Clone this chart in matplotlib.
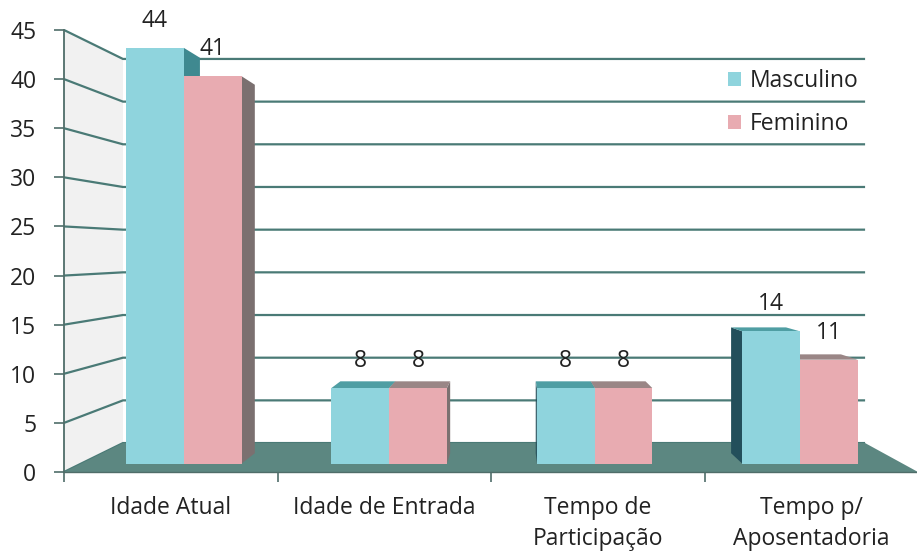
import numpy as np
import matplotlib.pyplot as plt
from matplotlib.patches import Polygon, Patch

# dados
categorias = ['Idade Atual', 'Idade de Entrada', 'Tempo de\nParticipação', 'Tempo p/\nAposentadoria']
series = ['Masculino', 'Feminino']
masculino = [44, 8, 8, 14]
feminino = [41, 8, 8, 11]
yticks = list(range(0, 46, 5))

plt.rcParams['font.family'] = ['Open Sans', 'DejaVu Sans']
FS = 16.5
COR_TXT = '#222222'

# cores: frente, topo, lado direito, lado esquerdo
cores = {
    'Masculino': ('#8fd4dd', '#4f9ea3', '#3f8990', '#234f5b'),
    'Feminino': ('#e8abb1', '#9a8686', '#7b7070', '#5e5555'),
}
cor_grade = '#4a7a76'
cor_chao = '#5c8781'

# perspectiva (ponto de fuga em unidades do eixo, escalas de profundidade)
VX, VY = 2.108, 22.5
S_FRENTE, S_B0, S_B1, S_FUNDO = 1.0, 0.962, 0.915, 0.869
LARG = 0.281
YMAX = 45
NCAT = len(categorias)


def proj(x, y, s):
    return (VX + (x - VX) * s, VY + (y - VY) * s)


fig = plt.figure(figsize=(9.17, 5.52), dpi=100)
ax = fig.add_axes([64/917, 80/552, 854/917, 442/552])
ax.set_xlim(0, NCAT)
ax.set_ylim(0, YMAX)


def poly(pts, **kw):
    ax.add_patch(Polygon(pts, closed=True, clip_on=False, **kw))


# paredes
poly([proj(0, 0, S_FRENTE), proj(0, YMAX, S_FRENTE), proj(0, YMAX, S_FUNDO), proj(0, 0, S_FUNDO)],
     facecolor='#f1f1f1', edgecolor='none', zorder=1)
poly([proj(0, 0, S_FUNDO), proj(NCAT, 0, S_FUNDO), proj(NCAT, YMAX, S_FUNDO), proj(0, YMAX, S_FUNDO)],
     facecolor='white', edgecolor='none', zorder=1)

# grade
for v in yticks:
    pts = [proj(0, v, S_FRENTE), proj(0, v, S_FUNDO), proj(NCAT, v, S_FUNDO)]
    ax.plot([p[0] for p in pts], [p[1] for p in pts], color=cor_grade, lw=1.6,
            clip_on=False, zorder=2, solid_capstyle='butt')

# chão
poly([proj(0, 0, S_FRENTE), proj(NCAT, 0, S_FRENTE), proj(NCAT, 0, S_FUNDO), proj(0, 0, S_FUNDO)],
     facecolor=cor_chao, edgecolor='none', zorder=3)

# barras
barras = []
for i in range(NCAT):
    for j, (nome, vals) in enumerate(zip(series, [masculino, feminino])):
        x0 = i + 0.5 - LARG + j * LARG
        barras.append((x0, x0 + LARG, vals[i], nome))
barras.sort(key=lambda b: -abs((b[0] + b[1]) / 2 - VX))

z = 4
for x0, x1, h, nome in barras:
    frente, topo, ldir, lesq = cores[nome]
    if x1 < VX:
        poly([proj(x1, 0, S_B0), proj(x1, h, S_B0), proj(x1, h, S_B1), proj(x1, 0, S_B1)],
             facecolor=ldir, edgecolor='none', zorder=z)
    if x0 > VX:
        poly([proj(x0, 0, S_B0), proj(x0, h, S_B0), proj(x0, h, S_B1), proj(x0, 0, S_B1)],
             facecolor=lesq, edgecolor='none', zorder=z)
    if h < VY:
        poly([proj(x0, h, S_B0), proj(x1, h, S_B0), proj(x1, h, S_B1), proj(x0, h, S_B1)],
             facecolor=topo, edgecolor='none', zorder=z)
    poly([proj(x0, 0, S_B0), proj(x1, 0, S_B0), proj(x1, h, S_B0), proj(x0, h, S_B0)],
         facecolor=frente, edgecolor='none', zorder=z + 0.5)
    ax.annotate(str(h), proj((x0 + x1) / 2, h, S_B0), xytext=(0, 19.5), textcoords='offset points',
                ha='center', va='center', fontsize=FS, color=COR_TXT, annotation_clip=False, zorder=20)
    z += 1

# eixos
for lado in ['top', 'right']:
    ax.spines[lado].set_visible(False)
ax.spines['left'].set_color('#4f6d69')
ax.spines['left'].set_linewidth(1.3)
ax.spines['bottom'].set_color('#4f6d69')
ax.spines['bottom'].set_linewidth(1.0)
ax.spines['left'].set_zorder(30)
ax.spines['bottom'].set_zorder(30)
ax.set_facecolor('none')

ax.set_yticks(yticks)
ax.set_yticklabels([str(v) for v in yticks], fontsize=FS, color=COR_TXT)
ax.tick_params(axis='y', direction='out', length=7, width=1.2, color='#4f6d69', pad=13)
ax.set_xticks(range(NCAT + 1))
ax.set_xticklabels([''] * (NCAT + 1))
ax.set_xticks([i + 0.5 for i in range(NCAT)], minor=True)
ax.set_xticklabels(categorias, minor=True, fontsize=FS, color=COR_TXT, linespacing=1.4)
ax.tick_params(axis='x', which='major', direction='out', length=7, width=1.2, color='#4f6d69')
ax.tick_params(axis='x', which='minor', length=0, pad=17)

# legenda
handles = [Patch(facecolor=cores[s][0], edgecolor='none') for s in series]
ax.legend(handles, series, loc='upper left', bbox_to_anchor=(728/917, 1 - 69/552),
          bbox_transform=fig.transFigure, frameon=False, fontsize=FS, handlelength=0.55,
          handleheight=0.55, handletextpad=0.4, labelspacing=0.85, borderpad=0, borderaxespad=0,
          labelcolor=COR_TXT)

fig.savefig('out.png', dpi=100)
